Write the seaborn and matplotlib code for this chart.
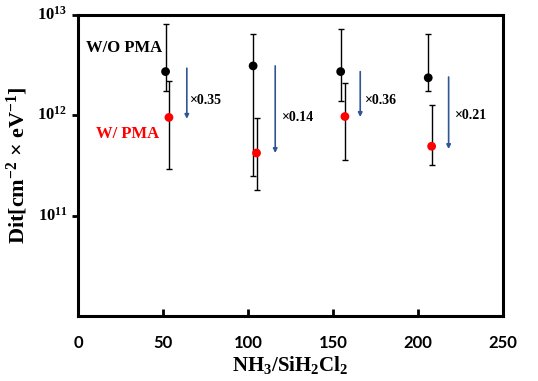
import numpy as np
import pandas as pd
import matplotlib
matplotlib.use("Agg")
import matplotlib.pyplot as plt
import seaborn as sns

# data
x_wo = [51.5, 103, 154.5, 206]
dit_wo = [2.72e12, 3.1e12, 2.72e12, 2.36e12]
err_hi_wo = [8.1e12, 6.5e12, 7.2e12, 6.5e12]
err_lo_wo = [1.76e12, 2.5e11, 1.37e12, 1.75e12]

x_w = [53.5, 105, 157, 208]
dit_w = [9.5e11, 4.2e11, 9.7e11, 4.9e11]
err_hi_w = [2.2e12, 9.3e11, 2.1e12, 1.25e12]
err_lo_w = [2.9e11, 1.8e11, 3.6e11, 3.2e11]

arrow_x = [64, 116, 166, 218]
arrow_top = [2.94e12, 3.1e12, 2.72e12, 2.4e12]
arrow_bot = [9.2e11, 4.2e11, 9.6e11, 4.6e11]

ratio_labels = ["×0.35", "×0.14", "×0.36", "×0.21"]
ratio_x = [66, 120, 169, 222]
ratio_y = [1.39e12, 9.4e11, 1.4e12, 1.0e12]

df = pd.DataFrame({
    "x": x_wo + x_w,
    "Dit": dit_wo + dit_w,
    "cond": ["W/O PMA"] * 4 + ["W/ PMA"] * 4,
})

sns.set_style("ticks")
plt.rcParams["mathtext.default"] = "regular"
plt.rcParams["axes.edgecolor"] = "black"
plt.rcParams["xtick.color"] = "black"
plt.rcParams["ytick.color"] = "black"
plt.rcParams["text.color"] = "black"
plt.rcParams["axes.labelcolor"] = "black"
serif = ["Liberation Serif", "DejaVu Serif"]

fig = plt.figure(figsize=(5.38, 3.81), dpi=100)
ax = fig.add_axes([0.145, 0.171, 0.79, 0.79])

# error bars
ax.errorbar(x_wo, dit_wo,
            yerr=[np.array(dit_wo) - np.array(err_lo_wo), np.array(err_hi_wo) - np.array(dit_wo)],
            fmt="none", ecolor="black", elinewidth=1, capsize=2.5, capthick=1, zorder=2)
ax.errorbar(x_w, dit_w,
            yerr=[np.array(dit_w) - np.array(err_lo_w), np.array(err_hi_w) - np.array(dit_w)],
            fmt="none", ecolor="black", elinewidth=1, capsize=2.5, capthick=1, zorder=2)

sns.scatterplot(data=df, x="x", y="Dit", hue="cond",
                palette={"W/O PMA": "black", "W/ PMA": "#ff0000"},
                s=40, edgecolor="none", legend=False, ax=ax, zorder=3)

# arrows
for xa, yt, yb in zip(arrow_x, arrow_top, arrow_bot):
    ax.annotate("", xy=(xa, yb), xytext=(xa, yt),
                arrowprops=dict(arrowstyle="-|>", color="#2f5597", lw=1.2,
                                mutation_scale=6, shrinkA=0, shrinkB=0))

for lab, xt, yt in zip(ratio_labels, ratio_x, ratio_y):
    ax.text(xt, yt, lab, fontsize=10, fontweight="bold", family=serif,
            va="center", ha="left")

ax.text(0.018, 0.89, "W/O PMA", transform=ax.transAxes, fontsize=12,
        fontweight="bold", family=serif, color="black", va="center")
ax.text(0.043, 0.605, "W/ PMA", transform=ax.transAxes, fontsize=12,
        fontweight="bold", family=serif, color="#ff0000", va="center")

ax.set_yscale("log")
ax.set_ylim(1e10, 1e13)
ax.set_xlim(0, 250)
ax.set_xticks([0, 50, 100, 150, 200, 250])
ax.set_yticks([1e11, 1e12, 1e13])
ax.set_yticklabels([])
ax.yaxis.set_minor_locator(matplotlib.ticker.NullLocator())

for yv, lab in zip([1e11, 1e12, 1e13], ["11", "12", "13"]):
    ax.text(-0.025, yv, r"10$^{%s}$" % lab, transform=ax.get_yaxis_transform(),
            ha="right", va="center", fontsize=12, fontweight="bold", family=serif)

ax.tick_params(axis="x", direction="in", length=5, width=2, pad=14, labelsize=12)
ax.tick_params(axis="y", direction="out", length=4, width=2)
for lab in ax.get_xticklabels():
    lab.set_fontweight("bold")
    lab.set_family(["Lato", "DejaVu Sans"])

for sp in ax.spines.values():
    sp.set_linewidth(2.2)
    sp.set_visible(True)

ax.set_xlabel(r"NH$_3$/SiH$_2$Cl$_2$", fontsize=15, fontweight="bold", family=serif, labelpad=2)
ax.set_ylabel(r"Dit[cm$^{-2}$ × eV$^{-1}$]", fontsize=16, fontweight="bold", family=serif, labelpad=27)

fig.savefig("out.png", dpi=100)
